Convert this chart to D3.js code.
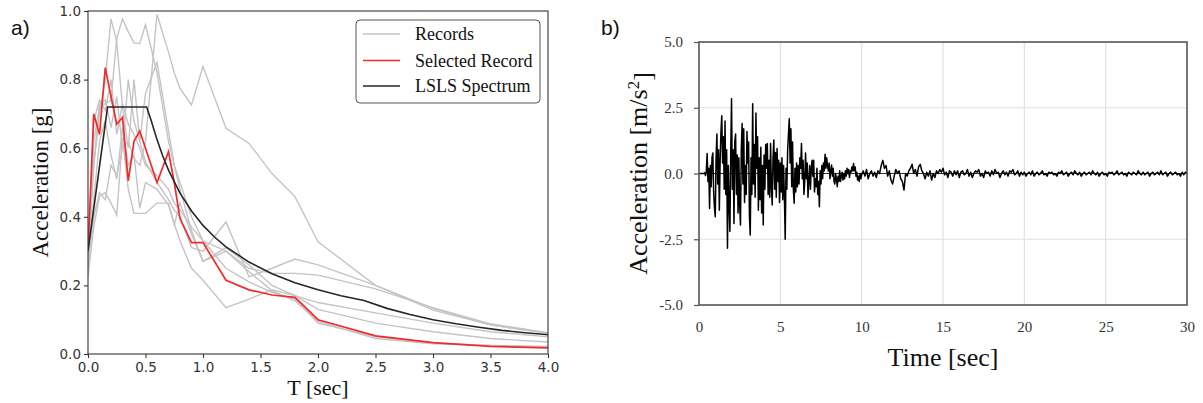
<!DOCTYPE html>
<html>
<head>
<meta charset="utf-8">
<script src="https://cdn.jsdelivr.net/npm/d3@7"></script>
<style>
  html, body { margin: 0; padding: 0; background: #fff; }
  svg { display: block; }
</style>
</head>
<body>
<svg id="chart" width="1203" height="403"></svg>
<script>
// ---------------- DATA: panel a) response spectra ----------------
const periods = [0, 0.05, 0.1, 0.15, 0.2, 0.25, 0.3, 0.35, 0.4, 0.45, 0.5, 0.6, 0.7, 0.75, 0.8, 0.9, 1.0, 1.2, 1.4, 1.6, 1.8, 2.0, 2.5, 3.0, 3.5, 4.0];

const record1 = [0.26, 0.40, 0.47, 0.45, 0.55, 0.52, 0.60, 0.62, 0.57, 0.55, 0.62, 0.99, 0.88, 0.82, 0.774, 0.726, 0.838, 0.658, 0.614, 0.526, 0.459, 0.327, 0.20, 0.133, 0.085, 0.06];
const record2 = [0.28, 0.55, 0.70, 0.80, 0.977, 0.91, 0.72, 0.60, 0.80, 0.62, 0.56, 0.50, 0.45, 0.42, 0.40, 0.31, 0.30, 0.385, 0.225, 0.25, 0.277, 0.26, 0.20, 0.128, 0.085, 0.06];
const record3 = [0.24, 0.62, 0.72, 0.73, 0.74, 0.92, 0.977, 0.94, 0.907, 0.905, 0.96, 0.82, 0.62, 0.55, 0.50, 0.40, 0.33, 0.30, 0.25, 0.235, 0.235, 0.23, 0.19, 0.135, 0.088, 0.062];
const record4 = [0.30, 0.55, 0.73, 0.74, 0.66, 0.75, 0.60, 0.80, 0.68, 0.62, 0.76, 0.85, 0.65, 0.55, 0.48, 0.36, 0.27, 0.31, 0.26, 0.20, 0.17, 0.13, 0.09, 0.065, 0.045, 0.035];
const record5 = [0.225, 0.37, 0.46, 0.47, 0.44, 0.405, 0.63, 0.48, 0.41, 0.41, 0.41, 0.44, 0.44, 0.376, 0.44, 0.35, 0.27, 0.30, 0.24, 0.185, 0.155, 0.095, 0.045, 0.03, 0.025, 0.022];
const record6 = [0.26, 0.45, 0.62, 0.68, 0.58, 0.51, 0.66, 0.55, 0.58, 0.425, 0.50, 0.48, 0.434, 0.38, 0.33, 0.25, 0.215, 0.135, 0.16, 0.187, 0.17, 0.15, 0.12, 0.09, 0.065, 0.05];
const record7 = [0.27, 0.68, 0.74, 0.71, 0.80, 0.64, 0.73, 0.67, 0.64, 0.60, 0.55, 0.52, 0.48, 0.44, 0.42, 0.37, 0.33, 0.25, 0.21, 0.18, 0.16, 0.09, 0.05, 0.032, 0.024, 0.02];
const grayRecords = [record1, record2, record3, record4, record5, record6, record7];

const selectedRecord = [0.30, 0.70, 0.64, 0.835, 0.75, 0.67, 0.69, 0.505, 0.62, 0.65, 0.60, 0.50, 0.59, 0.50, 0.395, 0.325, 0.325, 0.215, 0.187, 0.172, 0.165, 0.10, 0.053, 0.033, 0.022, 0.018];

const spectrumT  = [0, 0.17, 0.51, 0.55, 0.6, 0.65, 0.7, 0.8, 0.9, 1.0, 1.1, 1.2, 1.4, 1.6, 1.8, 2.0, 2.2, 2.4, 2.6, 2.8, 3.0, 3.2, 3.4, 3.6, 3.8, 4.0];
const spectrumSa = [0.30, 0.72, 0.72, 0.68, 0.625, 0.577, 0.536, 0.469, 0.417, 0.375, 0.341, 0.3125, 0.268, 0.234, 0.208, 0.1875, 0.170, 0.156, 0.133, 0.115, 0.10, 0.088, 0.078, 0.069, 0.062, 0.056];

const xTicksA = [0, 0.5, 1.0, 1.5, 2.0, 2.5, 3.0, 3.5, 4.0];
const yTicksA = [0, 0.2, 0.4, 0.6, 0.8, 1.0];
const legendLabels = ["Records", "Selected Record", "LSLS Spectrum"];

// ---------------- DATA: panel b) acceleration time history ----------------
// strong part: samples every 0.05 s from t = 0 s
const accStrongDt = 0.05;
const accStrong = [
  0,0,0,0,0,0,0,0.03,-0.08,0.1,
  0.76,-0.3,0.2,-1.33,0.3,-0.5,0.6,0.78,-0.7,-1.3,
  -1.64,0.6,1.5,-0.4,0.9,-1.4,0.5,1.6,2.2,0.4,
  1.4,-0.6,2.0,-0.8,0.9,-2.84,0.3,-1.2,-2.2,0.8,
  2.84,-0.6,0.9,-1.9,1.2,1.5,-0.8,0.7,-1.5,0.6,
  -1.2,-1.96,0.9,1.9,-0.4,1.7,-1.1,0.3,-0.8,1.6,
  0.4,1.2,-1.6,-2.34,0.6,-0.8,2.65,-0.4,1.1,-0.9,
  2.3,0.2,1.4,-1.4,0.6,-1.0,1.0,-1.5,0.3,-1.96,
  0.7,-0.6,1.1,0.2,1.14,-0.8,0.5,-0.9,1.14,-0.5,
  -1.2,0.6,1.27,-0.6,0.8,-0.9,0.95,-0.3,0.5,-1.1,
  0.4,-0.7,0.6,-1.0,0.3,-0.9,-2.5,0.2,-0.6,0.9,
  1.5,2.08,0.4,1.7,-0.5,1.2,-0.6,-1.13,0.2,-0.7,
  0.4,-0.5,0.3,-0.4,0.6,0.2,1.14,-0.2,0.5,-0.8,
  -0.3,0.78,-0.2,0.4,-0.9,-0.3,0.3,-0.6,0.2,0.5,
  -0.1,0.5,-0.7,-0.2,-0.5,0.2,-0.8,-0.3,-1.26,0.1,
  -0.4,0.3,-0.2,0.4,0.1,0.73,0.2,0.6,0.3,0.1,
  0.4,-0.2,0.1,0.32,-0.1,0.2,-0.3,-0.4,0.0,-0.2,
  -0.5,-0.1,-0.3,0.1,-0.3,-0.1,0.05,-0.25,0.0,-0.2,
  0.1,-0.1,0.2,0.0,0.15,-0.15,0.1,0.05,0.25,0.1,
  0.38,0.1,0.25,-0.1,0.05,-0.25,-0.1,-0.3,0.0,-0.2
];
// weak part: samples every 0.1 s from t = 10 s
const accWeakStart = 10;
const accWeakDt = 0.1;
const accWeak = [
  -0.05,0.1,-0.1,0.15,-0.2,0.0,0.1,-0.1,0.05,-0.15,
  0.1,0.0,0.3,0.5,0.2,0.3,-0.1,0.1,-0.25,-0.4,
  -0.1,0.15,0.0,0.1,-0.2,-0.3,-0.63,0.0,-0.1,0.1,
  0.2,0.35,0.0,0.15,-0.1,0.25,0.35,0.1,0.0,-0.2,
  0.05,-0.1,0.1,-0.25,0.0,-0.15,0.1,0.0,0.15,0.05,
  0.2,-0.05,0.05,-0.15,0.1,0.05,-0.1,0.1,-0.05,0.1,
  -0.15,0.05,0.1,-0.05,0.0,0.15,-0.1,0.05,-0.15,0.0,
  0.1,0.05,0.15,-0.1,0.0,-0.15,0.1,0.0,0.05,-0.1,
  0.1,-0.05,0.15,0.0,0.05,-0.15,0.0,0.1,-0.05,0.05,
  -0.1,0.1,0.05,0.15,-0.05,0.0,0.1,-0.1,0.05,-0.05,
  0.05,-0.1,0.0,0.05,-0.05,0.1,-0.1,0.0,0.05,-0.05,
  0.0,0.1,-0.05,0.0,-0.1,0.05,0.0,0.05,-0.05,0.0,
  -0.1,0.05,0.0,0.1,-0.05,0.0,0.05,-0.1,0.0,0.05,
  -0.05,0.1,0.0,-0.05,0.05,-0.1,0.0,0.05,-0.05,0.0,
  0.05,-0.05,0.1,0.0,-0.05,0.05,-0.1,0.0,0.05,-0.05,
  0.0,-0.1,0.05,0.0,0.05,-0.05,0.0,0.1,-0.05,0.0,
  0.05,-0.05,0.0,-0.1,0.05,0.0,-0.05,0.05,0.0,-0.05,
  0.1,0.0,-0.05,0.05,-0.05,0.0,0.05,-0.1,0.0,0.05,
  -0.05,0.0,0.05,-0.05,0.1,-0.05,0.0,0.05,-0.1,0.0,
  0.05,-0.05,0.0,0.05,-0.05,0.0,-0.1,0.05,-0.05,0.05,
  0.0
];
const xTicksB = [0, 5, 10, 15, 20, 25, 30];
const yTicksB = [-5, -2.5, 0, 2.5, 5];

// ---------------- DRAWING ----------------
const svg = d3.select("#chart");
const SANS = "'DejaVu Sans', sans-serif";
const SERIF = "'Liberation Serif', 'Times New Roman', serif";

// ===== Panel a =====
const A = { left: 88, right: 548, top: 11, bottom: 354 };
const xA = d3.scaleLinear().domain([0, 4]).range([A.left, A.right]);
const yA = d3.scaleLinear().domain([0, 1]).range([A.bottom, A.top]);

svg.append("clipPath").attr("id", "clipA").append("rect")
  .attr("x", A.left).attr("y", A.top).attr("width", A.right - A.left).attr("height", A.bottom - A.top);

const gA = svg.append("g");
const lineA = d3.line().x(d => xA(d[0])).y(d => yA(d[1]));
const plotA = gA.append("g").attr("clip-path", "url(#clipA)");

grayRecords.forEach(rec => {
  plotA.append("path")
    .datum(periods.map((t, i) => [t, rec[i]]))
    .attr("d", lineA).attr("fill", "none")
    .attr("stroke", "#c4c4c4").attr("stroke-width", 1.4);
});
plotA.append("path")
  .datum(periods.map((t, i) => [t, selectedRecord[i]]))
  .attr("d", lineA).attr("fill", "none")
  .attr("stroke", "#f42a2a").attr("stroke-width", 1.7);
plotA.append("path")
  .datum(spectrumT.map((t, i) => [t, spectrumSa[i]]))
  .attr("d", lineA)
  .attr("fill", "none")
  .attr("stroke", "#262626").attr("stroke-width", 1.6);

// axes
const axA_x = gA.append("g").attr("transform", `translate(0,${A.bottom})`)
  .call(d3.axisBottom(xA).tickValues(xTicksA).tickFormat(d3.format(".1f")).tickSize(4).tickPadding(4));
const axA_y = gA.append("g").attr("transform", `translate(${A.left},0)`)
  .call(d3.axisLeft(yA).tickValues(yTicksA).tickFormat(d3.format(".1f")).tickSize(4).tickPadding(3));
[axA_x, axA_y].forEach(ax => {
  ax.select(".domain").remove();
  ax.selectAll(".tick line").attr("stroke", "#333").attr("stroke-width", 1.1);
  ax.selectAll(".tick text").attr("fill", "#333").style("font-family", SANS).style("font-size", "13.5px");
});
gA.append("rect")
  .attr("x", A.left).attr("y", A.top).attr("width", A.right - A.left).attr("height", A.bottom - A.top)
  .attr("fill", "none").attr("stroke", "#333").attr("stroke-width", 1.1);

gA.append("text").attr("x", (A.left + A.right) / 2).attr("y", 395)
  .attr("text-anchor", "middle").style("font-family", SERIF).style("font-size", "22px").attr("fill", "#111")
  .text("T [sec]");
gA.append("text").attr("transform", `translate(48,${(A.top + A.bottom) / 2}) rotate(-90)`)
  .attr("text-anchor", "middle").style("font-family", SERIF).style("font-size", "23px").attr("fill", "#111")
  .text("Acceleration [g]");
svg.append("text").attr("x", 11).attr("y", 35)
  .style("font-family", "'Liberation Sans', Arial, sans-serif").style("font-size", "21px").attr("fill", "#111")
  .text("a)");

// legend
const leg = gA.append("g");
leg.append("rect").attr("x", 356).attr("y", 20).attr("width", 184).attr("height", 83).attr("rx", 4)
  .attr("fill", "#fff").attr("stroke", "#555").attr("stroke-width", 1);
const legColors = ["#c4c4c4", "#f42a2a", "#262626"];
const legY = [34, 60.5, 86];
legendLabels.forEach((lab, i) => {
  leg.append("line").attr("x1", 363).attr("x2", 400).attr("y1", legY[i]).attr("y2", legY[i])
    .attr("stroke", legColors[i]).attr("stroke-width", i === 0 ? 1.4 : 1.7);
  leg.append("text").attr("x", 415).attr("y", legY[i] + 6)
    .style("font-family", SERIF).style("font-size", "18px").attr("fill", "#111").text(lab);
});

// ===== Panel b =====
const B = { left: 699, right: 1187, top: 42, bottom: 305 };
const xB = d3.scaleLinear().domain([0, 30]).range([B.left, B.right]);
const yB = d3.scaleLinear().domain([-5, 5]).range([B.bottom, B.top]);
const gB = svg.append("g");

// grid
gB.append("g").selectAll("line").data(xTicksB.slice(1, -1)).join("line")
  .attr("x1", d => xB(d)).attr("x2", d => xB(d)).attr("y1", B.top).attr("y2", B.bottom)
  .attr("stroke", "#e0e0e0").attr("stroke-width", 1.2);
gB.append("g").selectAll("line").data(yTicksB.filter(v => v !== -5 && v !== 5 && v !== 0)).join("line")
  .attr("x1", B.left).attr("x2", B.right).attr("y1", d => yB(d)).attr("y2", d => yB(d))
  .attr("stroke", "#e0e0e0").attr("stroke-width", 1.2);
// zero line
gB.append("line").attr("x1", B.left).attr("x2", B.right).attr("y1", yB(0)).attr("y2", yB(0))
  .attr("stroke", "#333").attr("stroke-width", 1);

// data
const accPoints = accStrong.map((v, i) => [i * accStrongDt, v])
  .concat(accWeak.map((v, i) => [accWeakStart + i * accWeakDt, v]));
gB.append("path").datum(accPoints)
  .attr("d", d3.line().x(d => xB(d[0])).y(d => yB(d[1])))
  .attr("fill", "none").attr("stroke", "#000").attr("stroke-width", 1.5).attr("stroke-linejoin", "round");

// axes
const axB_x = gB.append("g").attr("transform", `translate(0,${B.bottom})`)
  .call(d3.axisBottom(xB).tickValues(xTicksB).tickFormat(d3.format("d")).tickSize(0).tickPadding(16));
const axB_y = gB.append("g").attr("transform", `translate(${B.left},0)`)
  .call(d3.axisLeft(yB).tickValues(yTicksB).tickFormat(d3.format(".1f")).tickSize(5).tickPadding(11));
[axB_x, axB_y].forEach(ax => {
  ax.select(".domain").remove();
  ax.selectAll(".tick line").attr("stroke", "#555").attr("stroke-width", 1.2);
  ax.selectAll(".tick text").attr("fill", "#333").style("font-family", SERIF).style("font-size", "15px");
});
axB_y.selectAll(".tick text").text(d => d3.format(".1f")(d).replace("−", "-"));
// frame
gB.append("rect").attr("x", B.left).attr("y", B.top).attr("width", B.right - B.left).attr("height", B.bottom - B.top)
  .attr("fill", "none").attr("stroke", "#555").attr("stroke-width", 1.6);

gB.append("text").attr("x", (B.left + B.right) / 2).attr("y", 366)
  .attr("text-anchor", "middle").style("font-family", SERIF).style("font-size", "26px").attr("fill", "#111")
  .text("Time [sec]");
const yl = gB.append("text").attr("transform", `translate(647,${(B.top + B.bottom) / 2}) rotate(-90)`)
  .attr("text-anchor", "middle").style("font-family", SERIF).style("font-size", "26px").attr("fill", "#111");
yl.append("tspan").text("Acceleration [m/s");
yl.append("tspan").attr("dy", "-0.45em").style("font-size", "17px").text("2");
yl.append("tspan").attr("dy", "0.45em").text("]");
svg.append("text").attr("x", 601).attr("y", 35)
  .style("font-family", "'Liberation Sans', Arial, sans-serif").style("font-size", "21px").attr("fill", "#111")
  .text("b)");
</script>
</body>
</html>
